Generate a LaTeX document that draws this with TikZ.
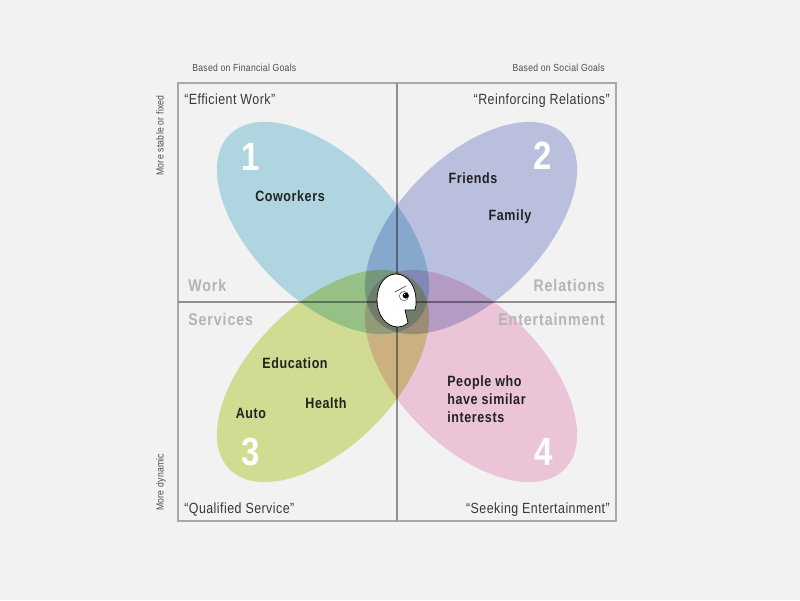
\documentclass[tikz,border=0pt]{standalone}
\usepackage{fontspec}
\setmainfont[FakeStretch=0.84]{Liberation Sans}
\definecolor{pagebg}{HTML}{F2F2F2}
\definecolor{framegray}{HTML}{A9A9A9}
\definecolor{zonegray}{HTML}{B4B4B4}
\definecolor{inkdark}{HTML}{222222}
\definecolor{petalblue}{HTML}{B9E1EE}
\definecolor{petalpurple}{HTML}{C4CAE9}
\definecolor{petalgreen}{HTML}{DDE799}
\definecolor{petalpink}{HTML}{F8CFE3}
\tikzset{
    petal/.style={blend mode=multiply, fill=#1},
    axislabel/.style={inner sep=0pt, text=inkdark!80, font=\fontsize{7.3}{9}\selectfont\addfontfeature{LetterSpace=2.8}},
    quotelabel/.style={inner sep=0pt, text=inkdark!90, font=\fontsize{10.5}{12}\selectfont\addfontfeature{LetterSpace=3.2}},
    zonelabel/.style={inner sep=0pt, text=zonegray, font=\fontsize{12}{14}\selectfont\bfseries\addfontfeature{LetterSpace=5.5}},
    itemlabel/.style={inner sep=0pt, text=inkdark, font=\fontsize{10.6}{12.8}\selectfont\bfseries\addfontfeature{LetterSpace=4}},
    numlabel/.style={inner sep=0pt, text=white, font=\fontsize{28}{30}\selectfont\bfseries}
}
\begin{document}
\begin{tikzpicture}[x=0.025cm, y=-0.025cm]
    % Page and frame, coordinates follow the 800x600 grid
    \fill[pagebg] (0,0) rectangle (800,600);
    \coordinate (C) at (397,302);
    \draw[framegray, line width=1.1pt] (178,83) rectangle (616,521);
    \draw[framegray!85!black, line width=0.9pt] (397,83) -- (397,521);
    \draw[framegray!85!black, line width=0.9pt] (178,302) -- (616,302);

    % The four petals
    \fill[petal=petalblue]   (323,228) ellipse[x radius=3.3cm, y radius=1.78cm, rotate=-45];
    \fill[petal=petalpurple] (471,228) ellipse[x radius=3.3cm, y radius=1.78cm, rotate=45];
    \fill[petal=petalgreen]  (323,376) ellipse[x radius=3.3cm, y radius=1.78cm, rotate=45];
    \fill[petal=petalpink]   (471,376) ellipse[x radius=3.3cm, y radius=1.78cm, rotate=-45];

    % Head in the middle
    \draw[black, fill=white, line width=0.5pt] (415,310) -- (405,310) -- (408,323)
        .. controls (404,326) and (401,327) .. (398,327)
        .. controls (386,327) and (377,315) .. (377,300)
        .. controls (377,285) and (385,274) .. (396,274)
        .. controls (408,274) and (416,287) .. (416,300)
        .. controls (416,304) and (416,307) .. (415,310) -- cycle;
    \draw[black!60, line width=0.4pt] (404,296) circle (4.7);
    \fill[black] (405.7,295.5) circle (3);
    \fill[white] (404.6,294.6) circle (0.7);
    \draw[gray!70!black, line width=0.5pt] (395,292) -- (406,286);

    % Outside labels
    \node[axislabel, anchor=mid west] (finance) at (192,67.5) {Based on Financial Goals};
    \node[axislabel, anchor=mid east] (social) at (605,67.5) {Based on Social Goals};
    \node[axislabel, rotate=90, anchor=mid east] (stable) at (160,95) {More stable or fixed};
    \node[axislabel, rotate=90, anchor=mid west] (dynamic) at (160,511) {More dynamic};

    % Quadrant titles
    \node[quotelabel, anchor=mid west] (efficient) at (184,101) {“Efficient Work”};
    \node[quotelabel, anchor=mid east] (reinforcing) at (610,101) {“Reinforcing Relations”};
    \node[quotelabel, anchor=mid west] (qualified) at (184,510) {“Qualified Service”};
    \node[quotelabel, anchor=mid east] (seeking) at (610,510) {“Seeking Entertainment”};

    \node[zonelabel, anchor=mid west] (work) at (188,287.5) {Work};
    \node[zonelabel, anchor=mid east] (relations) at (605,287.5) {Relations};
    \node[zonelabel, anchor=mid west] (services) at (188,321.5) {Services};
    \node[zonelabel, anchor=mid east] (entertainment) at (605,321.5) {Entertainment};

    \node[numlabel] (one) at (250.5,156.5) {1};
    \node[numlabel] (two) at (542.5,156) {2};
    \node[numlabel] (three) at (251,452) {3};
    \node[numlabel] (four) at (544,452) {4};

    % Items
    \node[itemlabel, anchor=mid] (coworkers) at (290,198) {Coworkers};
    \node[itemlabel, anchor=mid] (friends) at (473,180) {Friends};
    \node[itemlabel, anchor=mid] (family) at (510,217) {Family};
    \node[itemlabel, anchor=mid] (education) at (295,365) {Education};
    \node[itemlabel, anchor=mid] (health) at (326,405) {Health};
    \node[itemlabel, anchor=mid] (auto) at (251,415) {Auto};
    \node[itemlabel, align=left, anchor=west] (people) at (447,399) {People who\\have similar\\interests};
\end{tikzpicture}
\end{document}
